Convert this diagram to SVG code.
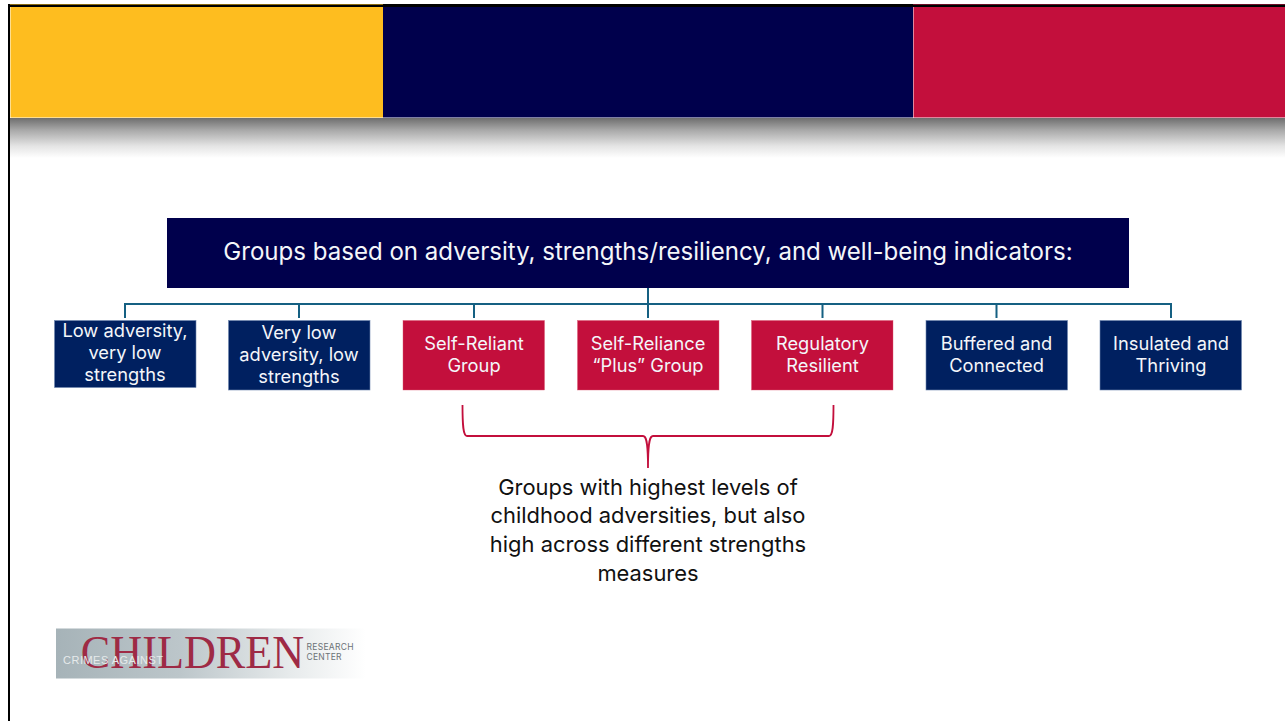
<svg xmlns="http://www.w3.org/2000/svg" width="1285" height="721" viewBox="0 0 1285 721">
<style>
text{font-family:Inter,"Noto Sans","Liberation Sans",sans-serif;text-anchor:middle}
.n{fill:#002060;stroke:#6f88b0;stroke-width:.6}
.r{fill:#c30f3c;stroke:#d9546f;stroke-width:.4}
.t{fill:#f4f6fa;font-size:18.300px}
.c{fill:none;stroke:#156082;stroke-width:2}
.l{fill:#111;font-size:21.900px}
</style>
<defs>
<linearGradient id="sh" x1="0" y1="0" x2="0" y2="1"><stop offset="0" stop-color="#6e6e6e"/><stop offset=".3" stop-color="#a8a8a8"/><stop offset=".7" stop-color="#e4e4e4"/><stop offset="1" stop-color="#fff"/></linearGradient>
<linearGradient id="lg" x1="0" y1="0" x2="1" y2="0"><stop offset="0" stop-color="#a6b3b8"/><stop offset=".4" stop-color="#bcc6ca"/><stop offset=".75" stop-color="#e6eaeb"/><stop offset="1" stop-color="#fff"/></linearGradient>
</defs>
<rect width="1285" height="721" fill="#fff"/>
<g id="banner">
<rect x="10" y="118" width="1275" height="40" fill="url(#sh)"/>
<rect x="8" y="4" width="1277" height="3" fill="#000"/>
<rect x="8" y="4" width="375" height="1" fill="#8a6a10"/>
<rect x="913" y="4" width="372" height="1" fill="#6a0c25"/>
<rect x="8" y="4" width="2" height="717" fill="#000"/>
<rect x="10.500" y="7" width="372.500" height="110.500" fill="#febd1f"/>
<rect x="383" y="7" width="530" height="110.500" fill="#00004c"/>
<rect x="913.500" y="7" width="372" height="110.500" fill="#c30f3c"/>
</g>
<g id="connectors">
<path class="c" d="M648 288V304M125 318V304H1171V318M299 318V304M474 318V304M648 318V304M822.500 318V304M996.500 318V304"/>
<path fill="none" stroke="#c30f3c" stroke-width="1.800" d="M462.500 405C462.500 425 463 436 467 436H643C646 436 648 440 648 468C648 440 650 436 653 436H829C833 436 833.500 425 833.500 405"/>
</g>
<g id="header">
<rect x="167" y="218" width="962" height="70" fill="#00004c"/>
<text x="648" y="259.500" fill="#f4f6fa" font-size="24.050">Groups based on adversity, strengths/resiliency, and well-being indicators:</text>
</g>
<g id="n1"><rect class="n" x="54.500" y="320.500" width="141.500" height="67"/><text class="t" x="125" y="337">Low adversity,</text><text class="t" x="125" y="359">very low</text><text class="t" x="125" y="381">strengths</text></g>
<g id="n2"><rect class="n" x="228.500" y="320.500" width="141.500" height="69.500"/><text class="t" x="299" y="339">Very low</text><text class="t" x="299" y="361">adversity, low</text><text class="t" x="299" y="383">strengths</text></g>
<g id="n3"><rect class="r" x="403" y="320.500" width="141.500" height="69.500"/><text class="t" x="474" y="350">Self-Reliant</text><text class="t" x="474" y="372">Group</text></g>
<g id="n4"><rect class="r" x="577.500" y="320.500" width="141.500" height="69.500"/><text class="t" x="648" y="350">Self-Reliance</text><text class="t" x="648" y="372">“Plus” Group</text></g>
<g id="n5"><rect class="r" x="751.500" y="320.500" width="141.500" height="69.500"/><text class="t" x="822.500" y="350">Regulatory</text><text class="t" x="822.500" y="372">Resilient</text></g>
<g id="n6"><rect class="n" x="926" y="320.500" width="141.500" height="69.500"/><text class="t" x="996.500" y="350">Buffered and</text><text class="t" x="996.500" y="372">Connected</text></g>
<g id="n7"><rect class="n" x="1100" y="320.500" width="141.500" height="69.500"/><text class="t" x="1171" y="350">Insulated and</text><text class="t" x="1171" y="372">Thriving</text></g>
<g id="note">
<text class="l" x="648" y="494.500">Groups with highest levels of</text>
<text class="l" x="648" y="523">childhood adversities, but also</text>
<text class="l" x="648" y="552">high across different strengths</text>
<text class="l" x="648" y="581">measures</text>
</g>
<g id="logo">
<rect x="56" y="628.500" width="310" height="50" fill="url(#lg)"/>
<text transform="translate(192.500 668) scale(.94 1)" fill="#9e2a45" style="font-family:'Liberation Serif',serif" font-size="47">CHILDREN</text>
<text x="113" y="663.500" fill="#e6eaeb" style="font-family:'Liberation Sans',sans-serif" font-size="11" textLength="100" lengthAdjust="spacing">CRIMES  AGAINST</text>
<g fill="#6b7276" style="font-family:'Liberation Sans',sans-serif" font-size="8.500"><text x="330" y="650" textLength="47" lengthAdjust="spacing">RESEARCH</text><text x="324" y="660" textLength="35" lengthAdjust="spacing">CENTER</text></g>
</g>
</svg>
